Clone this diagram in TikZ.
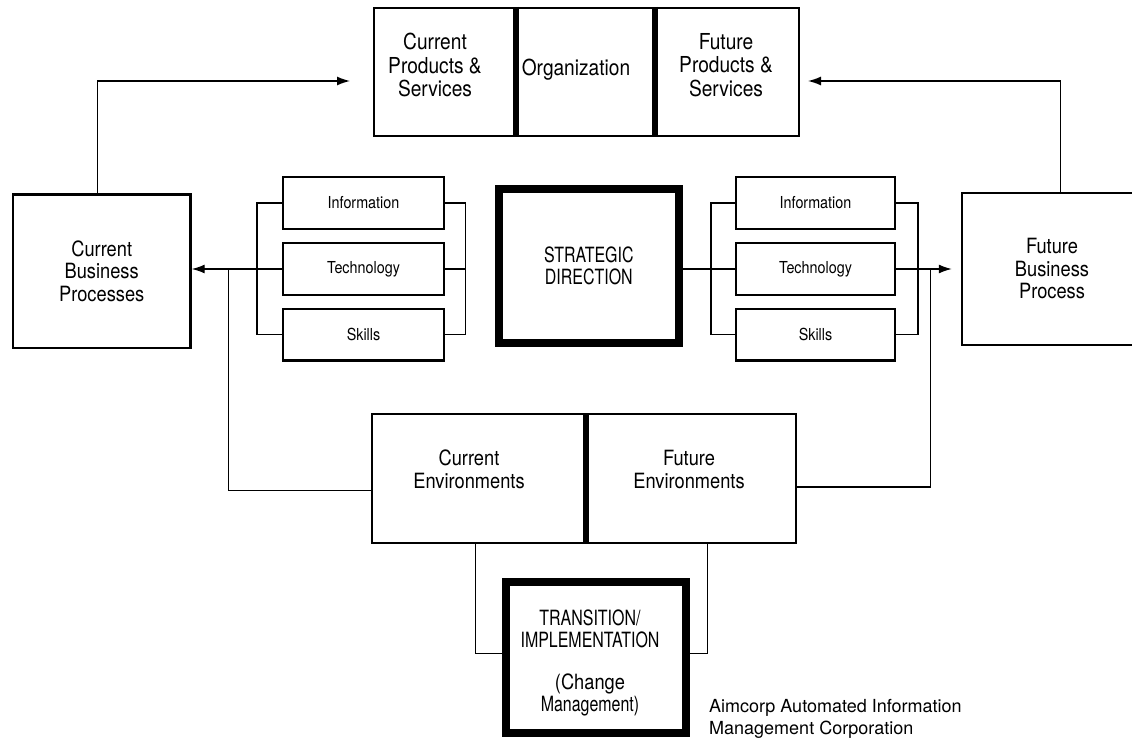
\documentclass[tikz,border=0pt]{standalone}
\usepackage{fontspec}
\setmainfont{TeX Gyre Heros}
\newfontfamily\condfont[FakeStretch=0.87]{TeX Gyre Heros}
\newfontfamily\capfont[FakeStretch=0.76]{TeX Gyre Heros}
\usetikzlibrary{arrows.meta}
\begin{document}
\begin{tikzpicture}[x=1pt,y=-1pt,
  cell/.style={draw, line width=2.3pt, inner sep=0pt},
  heavy/.style={draw, line width=8pt, inner sep=0pt},
  sized/.style 2 args={minimum width=#1, minimum height=#2},
  divider/.style={line width=6pt},
  link/.style={line width=1.4pt},
  arrow/.style={link, -{Latex[length=13pt,width=9pt]}},
  toplbl/.style={font=\condfont\fontsize{22}{23.3}\selectfont, align=center, inner sep=0pt},
  lbl/.style={font=\condfont\fontsize{21}{22.5}\selectfont, align=center},
  caplbl/.style={font=\capfont\fontsize{21}{22.2}\selectfont, align=center},
  smalllbl/.style={font=\condfont\fontsize{16.5}{18}\selectfont},
  note/.style={font=\fontsize{18}{22}\selectfont, align=left, inner sep=0pt}
]
\useasboundingbox (0,0) rectangle (1132,738);
\fill[white] (0,0) rectangle (1132,738);

% products / organization strip
\node[cell, sized={140.85pt}{127.7pt}] (cps) at (444.6,72) {};
\node[cell, sized={139pt}{127.7pt}]    (org) at (584.5,72) {};
\node[cell, sized={144.85pt}{127.7pt}] (fps) at (726.4,72) {};
\draw[divider] (cps.north east) -- (cps.south east);
\draw[divider] (org.north east) -- (org.south east);
\node[toplbl] (cpsT) at (435,65) {Current\\Products \&\\Services};
\node[toplbl] (orgT) at (576,70) {Organization};
\node[toplbl] (fpsT) at (726,65) {Future\\Products \&\\Services};

% business process boxes
\node[cell, lbl, sized={177.7pt}{153.7pt}] (cbp) at (101.7,271.3) {Current\\Business\\Processes};
\begin{scope}
  \clip (0,0) rectangle (1132,738);
  \node[cell, lbl, sized={179.7pt}{152pt}] (fbp) at (1052,268.85) {Future\\Business\\Process};
\end{scope}

% strategic direction
\node[heavy, caplbl, sized={179.7pt}{153.7pt}] (sd) at (588.85,265.85) {STRATEGIC\\DIRECTION};

% information / technology / skills, current side
\node[cell, smalllbl, sized={160.7pt}{51.7pt}] (li) at (363.5,203) {Information};
\node[cell, smalllbl, sized={160.7pt}{51.7pt}] (lt) at (363.5,269) {Technology};
\node[cell, smalllbl, sized={160.7pt}{51.7pt}] (ls) at (363.5,334.5) {Skills};

% information / technology / skills, future side
\node[cell, smalllbl, sized={158.7pt}{51.7pt}] (ri) at (815.5,203) {Information};
\node[cell, smalllbl, sized={158.7pt}{51.7pt}] (rt) at (815.5,269) {Technology};
\node[cell, smalllbl, sized={158.7pt}{51.7pt}] (rs) at (815.5,334.5) {Skills};

% environments strip
\node[cell, sized={213.15pt}{128.7pt}] (ce) at (478.4,478.5) {};
\node[cell, sized={211.15pt}{128.7pt}] (fe) at (690.6,478.5) {};
\draw[line width=6.5pt] (ce.north east) -- (ce.south east);
\node[lbl, inner sep=0pt] (ceT) at (469,469.5) {Current\\Environments};
\node[lbl, inner sep=0pt] (feT) at (689,469.5) {Future\\Environments};

% transition box
\node[heavy, sized={180.3pt}{150.7pt}] (tr) at (595.85,657.65) {};
\node[caplbl, inner sep=0pt] (trT) at (590,663)
  {TRANSITION/\\IMPLEMENTATION\\[19.5pt]\condfont (Change\\Management)};

% credit line
\node[note, anchor=west] (credit) at (709,718.7)
  {Aimcorp Automated Information\\Management Corporation};

% connectors: top arrows
\coordinate (inL) at (350,81);
\coordinate (inR) at (808,81);
\draw[arrow] ([xshift=-4pt]cbp.north) |- (inL);
\draw[arrow] ([xshift=8.7pt]fbp.north) |- (inR);

% current side brackets and arrow
\draw[link] (li.west) -- ++(-24.85,0) |- (ls.west);
\draw[link] (li.east) -- ++(20.45,0) |- (ls.east);
\draw[link] (lt.east) -- ++(20.45,0);
\draw[arrow] (lt.west) -- (cbp.east |- lt.west);

% future side brackets and arrow
\draw[link] (sd.east |- rt.west) -- (rt.west);
\draw[link] (ri.west) -- ++(-23.85,0) |- (rs.west);
\draw[link] (ri.east) -- ++(21.85,0) |- (rs.east);
\draw[arrow, shorten >=9.2pt] (rt.east) -- (fbp.west |- rt.east);

% environments to the arrow lines
\coordinate (jl) at (228.3,269);
\coordinate (jr) at (930.7,269);
\draw[link] ([yshift=-12.2pt]ce.west) -| (jl);
\draw[link] ([yshift=-8.5pt]fe.east) -| (jr);

% environments to transition
\draw[link] ([xshift=-2.7pt]ce.south) |- ([yshift=4.35pt]tr.west);
\draw[link] ([xshift=16.7pt]fe.south) |- ([yshift=4.35pt]tr.east);
\end{tikzpicture}
\end{document}
